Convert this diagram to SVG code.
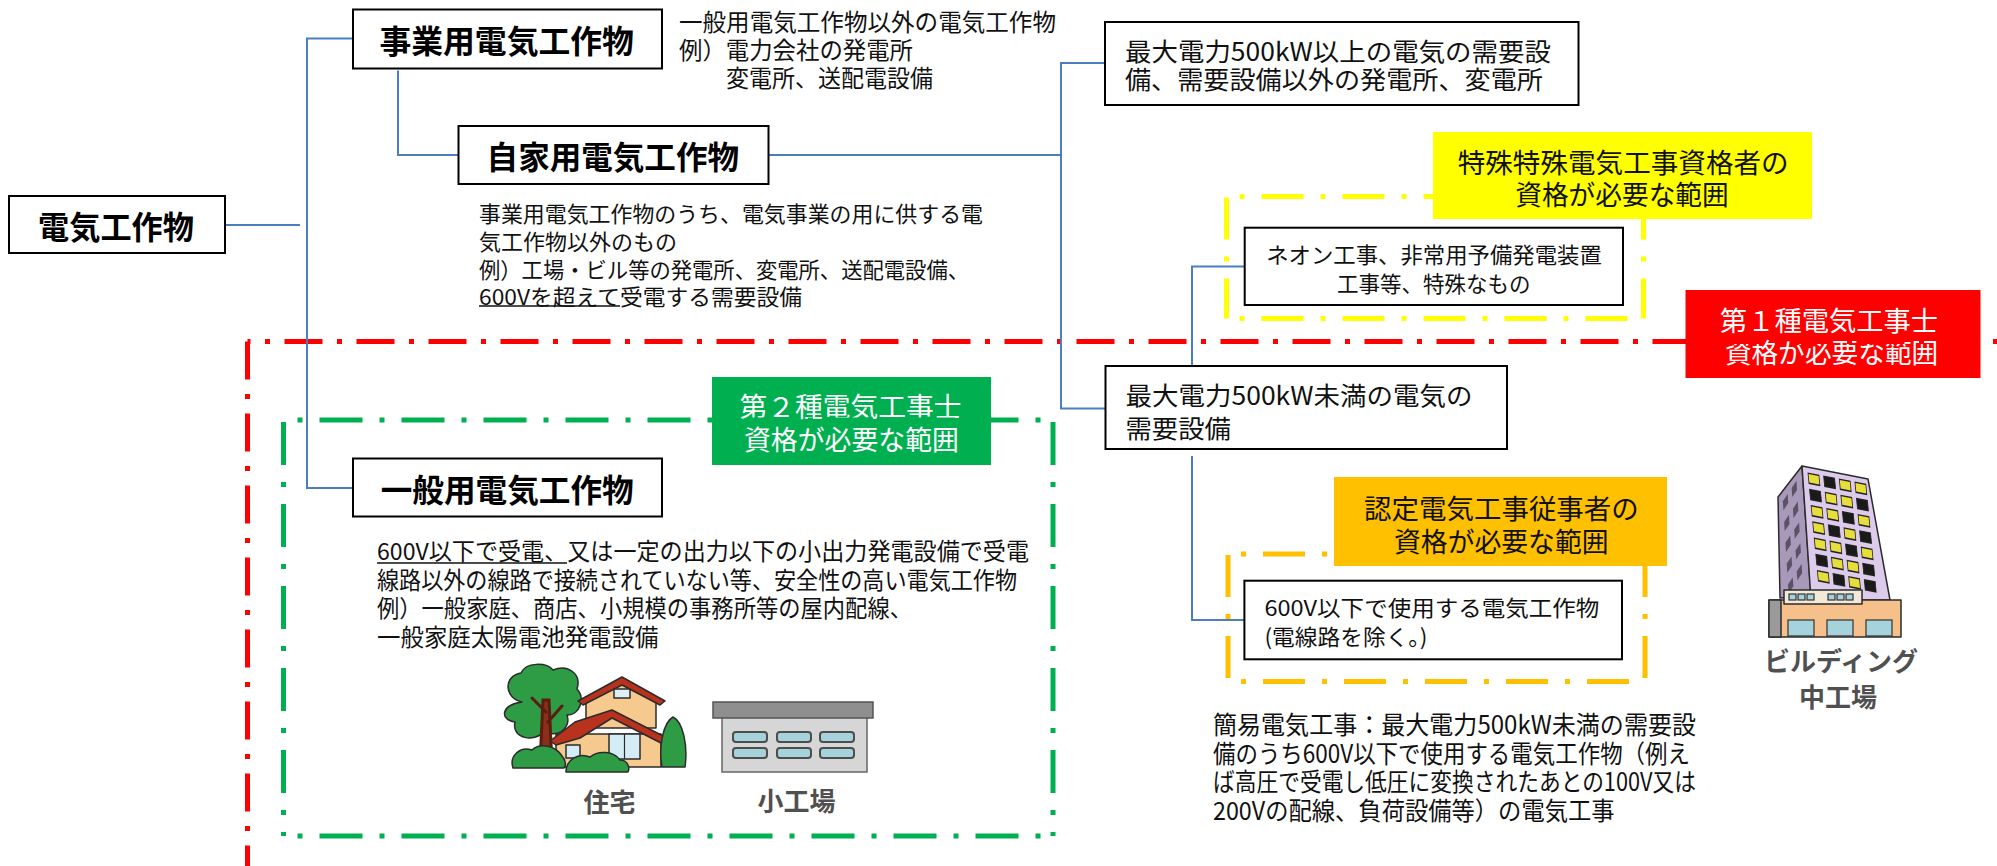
<svg xmlns="http://www.w3.org/2000/svg" width="1997" height="866" viewBox="0 0 1997 866">
  <style>
    text { font-family: "Noto Sans CJK JP", "Noto Sans", sans-serif; dominant-baseline: central; fill: #111; }
    .t { font-size: 23.5px; }
    .s { font-size: 22px; }
    .m { font-size: 25px; }
    .title { font-size: 32px; font-weight: 700; fill: #000; text-anchor: middle; }
    .lbl { font-size: 27px; text-anchor: middle; }
    .wt { fill: #fff; }
    .ctr { text-anchor: middle; }
    .box { fill: #fff; stroke: #000; stroke-width: 2; }
    .conn { fill: none; stroke: #4A7EC0; stroke-width: 2; }
    .red { fill: none; stroke: #FF0000; stroke-width: 5; stroke-dasharray: 38 14.5 5 14.5; }
    .grn { fill: none; stroke: #00B050; stroke-width: 5; stroke-dasharray: 43 17 5 17; }
    .yel { fill: none; stroke: #FFFF00; stroke-width: 5; stroke-dasharray: 42 17 5 17; }
    .org { fill: none; stroke: #FFC000; stroke-width: 5; stroke-dasharray: 42 17 5 17; }
    .ul { stroke: #111; stroke-width: 1.6; }
    .cap { font-size: 26px; font-weight: 700; fill: #505050; text-anchor: middle; }
    .ol { stroke: #2b2b2b; stroke-width: 1.5; stroke-linejoin: round; }
  </style>

  <rect width="1997" height="866" fill="#fff"/>

  <!-- scope frames -->
  <g id="scope-type2">
    <path class="grn" d="M283.5,420 H1053" stroke-dashoffset="46"/>
    <path class="grn" d="M283.5,420 V836" stroke-dashoffset="80"/>
    <path class="grn" d="M1053,420 V836" stroke-dashoffset="80"/>
    <path class="grn" d="M283.5,836 H1053" stroke-dashoffset="46"/>
  </g>
  <g id="scope-special">
    <path class="yel" d="M1226.5,196.5 H1643.5" stroke-dashoffset="46"/>
    <path class="yel" d="M1226.5,196.5 V318.5" stroke-dashoffset="80"/>
    <path class="yel" d="M1643.5,196.5 V318.5" stroke-dashoffset="80"/>
    <path class="yel" d="M1226.5,318.5 H1643.5" stroke-dashoffset="46"/>
  </g>
  <g id="scope-certified">
    <path class="org" d="M1228,554 H1645" stroke-dashoffset="46"/>
    <path class="org" d="M1228,554 V681.5" stroke-dashoffset="80"/>
    <path class="org" d="M1645,554 V681.5" stroke-dashoffset="80"/>
    <path class="org" d="M1228,681.5 H1645" stroke-dashoffset="46"/>
  </g>
  <g id="scope-type1-frame">
    <path class="red" d="M247.5,341.5 V866"/>
  </g>

  <!-- connectors -->
  <g id="connectors">
    <path class="conn" d="M225,225 H300"/>
    <path class="conn" d="M353,38.5 H307 V488 H353"/>
    <path class="conn" d="M398,70.5 V155 H458.5"/>
    <path class="conn" d="M768.5,155 H1061"/>
    <path class="conn" d="M1105,63 H1061 V408.5 H1105"/>
    <path class="conn" d="M1244.5,266.5 H1192 V366"/>
    <path class="conn" d="M1192,456 V620 H1244.5"/>
  </g>

  <!-- top edge of the first-class scope, blue lines kept above it -->
  <path class="red" d="M247.5,341.5 H1997" stroke-dashoffset="35"/>
  <path class="conn" d="M307,330 V352"/>
  <path class="conn" d="M1061,330 V352"/>

  <!-- nodes -->
  <g id="node-root">
    <rect class="box" x="9" y="196" width="216" height="57"/>
    <text class="title" x="116" y="225" textLength="156" lengthAdjust="spacingAndGlyphs">電気工作物</text>
  </g>

  <g id="node-utility">
    <rect class="box" x="353" y="9.5" width="309" height="59"/>
    <text class="title" x="506.7" y="39" textLength="254.5" lengthAdjust="spacingAndGlyphs">事業用電気工作物</text>
    <text class="t" x="679" y="20.5" textLength="377" lengthAdjust="spacingAndGlyphs">一般用電気工作物以外の電気工作物</text>
    <text class="t" x="679" y="48.5" textLength="234" lengthAdjust="spacingAndGlyphs">例）電力会社の発電所</text>
    <text class="t" x="726" y="77" textLength="207" lengthAdjust="spacingAndGlyphs">変電所、送配電設備</text>
  </g>

  <g id="node-private">
    <rect class="box" x="458.5" y="126" width="310" height="58"/>
    <text class="title" x="612.8" y="155" textLength="252.4" lengthAdjust="spacingAndGlyphs">自家用電気工作物</text>
    <text class="s" x="479" y="211.5" textLength="504" lengthAdjust="spacingAndGlyphs">事業用電気工作物のうち、電気事業の用に供する電</text>
    <text class="s" x="479" y="239.5" textLength="198" lengthAdjust="spacingAndGlyphs">気工作物以外のもの</text>
    <text class="s" x="479" y="267.5" textLength="490" lengthAdjust="spacingAndGlyphs">例）工場・ビル等の発電所、変電所、送配電設備、</text>
    <text class="s" x="479" y="295" textLength="323" lengthAdjust="spacingAndGlyphs">600Vを超えて受電する需要設備</text>
    <line class="ul" x1="479" y1="306" x2="620" y2="306"/>
  </g>

  <g id="node-general">
    <rect class="box" x="353" y="458.5" width="309" height="58"/>
    <text class="title" x="507.2" y="487.5" textLength="253" lengthAdjust="spacingAndGlyphs">一般用電気工作物</text>
    <text class="t" x="377" y="550" textLength="652" lengthAdjust="spacingAndGlyphs">600V以下で受電、又は一定の出力以下の小出力発電設備で受電</text>
    <text class="t" x="377" y="579" textLength="640" lengthAdjust="spacingAndGlyphs">線路以外の線路で接続されていない等、安全性の高い電気工作物</text>
    <text class="t" x="377" y="607" textLength="535" lengthAdjust="spacingAndGlyphs">例）一般家庭、商店、小規模の事務所等の屋内配線、</text>
    <text class="t" x="377" y="635.5" textLength="281.5" lengthAdjust="spacingAndGlyphs">一般家庭太陽電池発電設備</text>
    <line class="ul" x1="377" y1="563" x2="567" y2="563"/>
  </g>

  <g id="node-over500">
    <rect class="box" x="1105" y="22" width="473.5" height="83"/>
    <text class="m" x="1125" y="49.5" textLength="426" lengthAdjust="spacingAndGlyphs">最大電力500kW以上の電気の需要設</text>
    <text class="m" x="1125" y="77.5" textLength="418" lengthAdjust="spacingAndGlyphs">備、需要設備以外の発電所、変電所</text>
  </g>

  <g id="node-under500">
    <rect class="box" x="1105.5" y="366" width="401.5" height="83"/>
    <text class="m" x="1125.5" y="394" textLength="347" lengthAdjust="spacingAndGlyphs">最大電力500kW未満の電気の</text>
    <text class="m" x="1125.5" y="426.5" textLength="105.5" lengthAdjust="spacingAndGlyphs">需要設備</text>
  </g>

  <g id="node-neon">
    <rect class="box" x="1244.7" y="227.7" width="378.3" height="77.3"/>
    <text class="s ctr" x="1434" y="253" textLength="335.6" lengthAdjust="spacingAndGlyphs">ネオン工事、非常用予備発電装置</text>
    <text class="s ctr" x="1433.7" y="282" textLength="193.5" lengthAdjust="spacingAndGlyphs">工事等、特殊なもの</text>
  </g>

  <g id="node-600v">
    <rect class="box" x="1244.4" y="580.7" width="377.6" height="78.6"/>
    <text class="s" x="1264.4" y="606" textLength="335" lengthAdjust="spacingAndGlyphs">600V以下で使用する電気工作物</text>
    <text class="s" x="1264.4" y="635" textLength="163" lengthAdjust="spacingAndGlyphs">(電線路を除く。)</text>
  </g>

  <g id="note-simple-work">
    <text class="m" x="1213" y="723" textLength="483" lengthAdjust="spacingAndGlyphs">簡易電気工事：最大電力500kW未満の需要設</text>
    <text class="m" x="1213" y="752" textLength="477" lengthAdjust="spacingAndGlyphs">備のうち600V以下で使用する電気工作物（例え</text>
    <text class="m" x="1213" y="780" textLength="483" lengthAdjust="spacingAndGlyphs">ば高圧で受電し低圧に変換されたあとの100V又は</text>
    <text class="m" x="1213" y="808.5" textLength="401.6" lengthAdjust="spacingAndGlyphs">200Vの配線、負荷設備等）の電気工事</text>
  </g>

  <!-- qualification labels -->
  <g id="label-type2">
    <rect x="712" y="377" width="279" height="88" fill="#00B050"/>
    <text class="lbl wt" x="850.6" y="405.5" textLength="222" lengthAdjust="spacingAndGlyphs">第２種電気工事士</text>
    <text class="lbl wt" x="851.4" y="438" textLength="215" lengthAdjust="spacingAndGlyphs">資格が必要な範囲</text>
    <path class="grn" d="M712,420 H991" stroke-dashoffset="46"/>
  </g>

  <g id="label-special">
    <rect x="1433" y="132" width="379" height="87" fill="#FFFF00"/>
    <text class="lbl" x="1623.2" y="161" textLength="331" lengthAdjust="spacingAndGlyphs">特殊特殊電気工事資格者の</text>
    <text class="lbl" x="1622" y="193.5" textLength="213.5" lengthAdjust="spacingAndGlyphs">資格が必要な範囲</text>
  </g>

  <g id="label-type1">
    <rect x="1685.5" y="290" width="295" height="88" fill="#FF0000"/>
    <text class="lbl wt" x="1829" y="319" textLength="218.3" lengthAdjust="spacingAndGlyphs">第１種電気工事士</text>
    <text class="lbl wt" x="1831.6" y="351.5" textLength="213.3" lengthAdjust="spacingAndGlyphs">資格が必要な範囲</text>
    <path class="red" d="M1685.5,341.5 H1980.5" stroke-dashoffset="35"/>
  </g>

  <g id="label-certified">
    <rect x="1334" y="477" width="333" height="89" fill="#FFC000"/>
    <text class="lbl" x="1501.4" y="507.5" textLength="274.8" lengthAdjust="spacingAndGlyphs">認定電気工事従事者の</text>
    <text class="lbl" x="1501.3" y="540.3" textLength="214.6" lengthAdjust="spacingAndGlyphs">資格が必要な範囲</text>
  </g>

  <!-- house -->
  <g id="icon-house">
    <path d="M522,702 C504,698 503,676 521,673 C526,662 546,662 553,670 C567,664 582,673 577,689 C586,699 579,716 567,715 C572,729 555,739 545,731 C535,743 511,739 515,722 C500,720 500,705 522,702 Z" fill="#2E9B45" class="ol"/>
    <path d="M543,700 L549,700 L552,764 L540,764 Z M546,712 L532,698 M548,722 L562,706" fill="#8B2E1A" stroke="#5a1d10" stroke-width="3" stroke-linecap="round"/>
    <path d="M586,698 L622,682 L656,700 L656,728 L586,728 Z" fill="#F6C98E" class="ol"/>
    <path d="M578,701 L622,677 L665,701 L660,705 L622,685 L583,705 Z" fill="#B8321E" class="ol"/>
    <rect x="614" y="689" width="16" height="9" fill="#DDEFF5" class="ol"/>
    <rect x="556" y="734" width="105" height="33" fill="#F6C98E" class="ol"/>
    <path d="M550,741 L575,722 L612,710 L667,738 L661,743 L612,718 L580,738 L556,745 Z" fill="#B8321E" class="ol"/>
    <rect x="609" y="734" width="31" height="25" fill="#D4ECF4" class="ol"/>
    <line x1="624.5" y1="734" x2="624.5" y2="759" stroke="#2b2b2b" stroke-width="1.2"/>
    <rect x="566" y="745" width="14" height="13" fill="#D4ECF4" class="ol"/>
    <path d="M662,767 C658,745 664,722 673,717 C683,722 688,745 685,767 Z" fill="#2E9B45" class="ol"/>
    <path d="M513,768 C509,756 520,746 532,750 C540,742 556,746 562,756 C566,760 566,766 564,768 Z" fill="#2E9B45" class="ol"/>
    <path d="M566,772 C566,760 578,752 590,757 C598,750 614,751 620,760 C628,760 630,768 628,772 Z" fill="#2E9B45" class="ol"/>
    <text class="cap" x="609.5" y="800">住宅</text>
  </g>

  <!-- small factory -->
  <g id="icon-small-factory">
    <rect x="722" y="716" width="145" height="56" fill="#D6D6D6" stroke="#666" stroke-width="1.5"/>
    <rect x="713" y="702" width="160" height="16" fill="#8F8F8F" stroke="#555" stroke-width="1.5"/>
    <g fill="#A6D3DB" stroke="#4d4d4d" stroke-width="2">
      <rect x="733" y="732" width="34" height="10" rx="3"/>
      <rect x="777" y="732" width="34" height="10" rx="3"/>
      <rect x="820" y="732" width="34" height="10" rx="3"/>
      <rect x="733" y="748" width="34" height="10" rx="3"/>
      <rect x="777" y="748" width="34" height="10" rx="3"/>
      <rect x="820" y="748" width="34" height="10" rx="3"/>
    </g>
    <text class="cap" x="796.5" y="799">小工場</text>
  </g>

  <!-- building -->
  <g id="icon-building">
    <path d="M1778,497 L1802,466 L1811,596 L1780,598 Z" fill="#A898BA" class="ol"/>
    <g transform="matrix(0.2,-0.3,0.08,1.3,1780,497)" fill="#5b5266">
      <rect x="12" y="6" width="24" height="7"/><rect x="56" y="6" width="24" height="7"/>
      <rect x="12" y="22" width="24" height="7"/><rect x="56" y="22" width="24" height="7"/>
      <rect x="12" y="38" width="24" height="7"/><rect x="56" y="38" width="24" height="7"/>
      <rect x="12" y="54" width="24" height="7"/><rect x="56" y="54" width="24" height="7"/>
      <rect x="12" y="70" width="24" height="7"/><rect x="56" y="70" width="24" height="7"/>
    </g>
    <path d="M1802,466 L1868,479 L1890,600 L1811,600 Z" fill="#DCCBEB" class="ol"/>
    <g transform="matrix(0.68,0.13,0.12,1.25,1802,466)" stroke="#222" stroke-width="1.2">
      <g fill="#E6DE3A">
        <rect x="8" y="5" width="16" height="8"/><rect x="54" y="5" width="16" height="8"/><rect x="77" y="5" width="16" height="8"/>
        <rect x="31" y="18" width="16" height="8"/><rect x="54" y="18" width="16" height="8"/>
        <rect x="8" y="31" width="16" height="8"/><rect x="31" y="31" width="16" height="8"/><rect x="77" y="31" width="16" height="8"/>
        <rect x="8" y="44" width="16" height="8"/><rect x="54" y="44" width="16" height="8"/>
        <rect x="8" y="57" width="16" height="8"/><rect x="31" y="57" width="16" height="8"/><rect x="77" y="57" width="16" height="8"/>
        <rect x="31" y="70" width="16" height="8"/><rect x="54" y="70" width="16" height="8"/>
        <rect x="8" y="83" width="16" height="8"/><rect x="54" y="83" width="16" height="8"/>
      </g>
      <g fill="#1a1a1a">
        <rect x="31" y="5" width="16" height="8"/>
        <rect x="8" y="18" width="16" height="8"/><rect x="77" y="18" width="16" height="8"/>
        <rect x="54" y="31" width="16" height="8"/>
        <rect x="31" y="44" width="16" height="8"/><rect x="77" y="44" width="16" height="8"/>
        <rect x="54" y="57" width="16" height="8"/>
        <rect x="8" y="70" width="16" height="8"/><rect x="77" y="70" width="16" height="8"/>
        <rect x="31" y="83" width="16" height="8"/><rect x="77" y="83" width="16" height="8"/>
      </g>
    </g>
    <rect x="1769" y="600" width="132" height="37" fill="#F5C08A" class="ol"/>
    <rect x="1769" y="600" width="12" height="37" fill="#9a9a9a" class="ol"/>
    <rect x="1784" y="590" width="78" height="14" fill="#F3E9D8" class="ol"/>
    <g fill="#A6D3DB" stroke="#333" stroke-width="1.2">
      <rect x="1789" y="594" width="7" height="6"/><rect x="1798" y="594" width="7" height="6"/><rect x="1807" y="594" width="7" height="6"/>
      <rect x="1828" y="594" width="7" height="6"/><rect x="1837" y="594" width="7" height="6"/><rect x="1846" y="594" width="7" height="6"/>
      <rect x="1788" y="620" width="26" height="16"/><rect x="1827" y="620" width="26" height="16"/><rect x="1866" y="620" width="26" height="16"/>
    </g>
    <text class="cap" x="1841" y="659" font-size="25">ビルディング</text>
    <text class="cap" x="1838" y="695">中工場</text>
  </g>
</svg>
